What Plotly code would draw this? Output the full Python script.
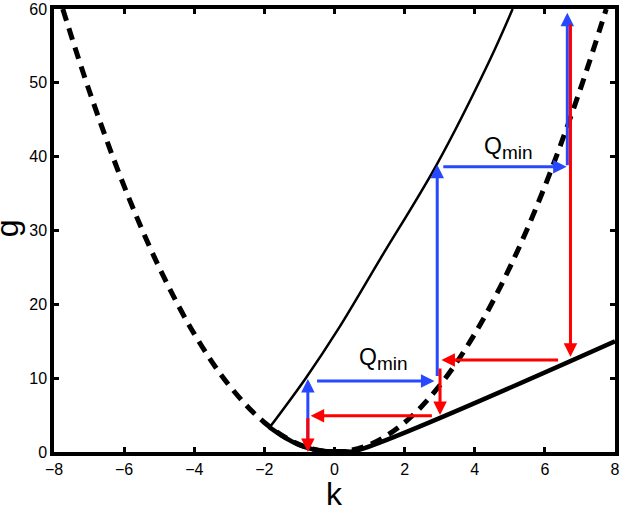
import plotly.graph_objects as go

# dashed parabola g(k)
k_dash = [-7.75, -7, -6, -5, -4, -3, -2, -1, 0, 1, 2, 3, 4, 5, 6, 7, 7.75]
g_dash = [60, 49, 36, 25, 16, 9, 4, 1, 0, 1, 4, 9, 16, 25, 36, 49, 60]

# thin solid upper curve
k_upper = [-1.87, -0.82, 0.1, 1.31, 2.9, 4.42, 5.08]
g_upper = [3.2, 10.0, 16.6, 26.2, 38.8, 53.0, 60.0]

# thick solid lower curve
k_lower = [-1.87, -1.5, -1.2, -0.9, -0.6, -0.3, 0.0, 0.3, 0.55, 8.0]
g_lower = [3.4, 2.2, 1.4, 0.75, 0.35, 0.15, 0.1, 0.1, 0.1, 15.0]

# arrows: tail (k0, g0) -> tip (k1, g1)
blue_k0 = [-0.76, -0.54, 2.93, 3.06, 6.64]
blue_g0 = [0.3, 9.6, 10.1, 38.65, 38.65]
blue_k1 = [-0.76, 2.85, 2.93, 6.62, 6.64]
blue_g1 = [9.9, 9.6, 38.9, 38.65, 59.5]

red_k0 = [6.73, 6.42, 3.01, 2.82, -0.76]
red_g0 = [58.1, 12.45, 11.5, 4.9, 4.8]
red_k1 = [6.73, 3.05, 3.01, -0.68, -0.76]
red_g1 = [12.9, 12.45, 5.0, 4.9, 0.0]

# Q_min labels
label_k = [1.4, 4.95]
label_g = [12.6, 41.2]

BLUE = "rgb(38,72,255)"
RED = "rgb(255,0,0)"
FONT = "Liberation Sans, Arial, Helvetica, sans-serif"

fig = go.Figure()

fig.add_trace(go.Scatter(
    x=k_dash, y=g_dash, mode="lines", line_shape="spline",
    line=dict(color="black", width=5, dash="12px,8px"),
))
fig.add_trace(go.Scatter(
    x=k_upper, y=g_upper, mode="lines", line_shape="spline",
    line=dict(color="black", width=2.5),
))
fig.add_trace(go.Scatter(
    x=k_lower, y=g_lower, mode="lines", line_shape="spline",
    line=dict(color="black", width=4.5),
))

annotations = []
for k0, g0, k1, g1 in zip(blue_k0, blue_g0, blue_k1, blue_g1):
    annotations.append(dict(
        x=k1, y=g1, ax=k0, ay=g0, xref="x", yref="y", axref="x", ayref="y",
        text="", showarrow=True, arrowhead=2, arrowsize=0.9, arrowwidth=3,
        arrowcolor=BLUE,
    ))
for k0, g0, k1, g1 in zip(red_k0, red_g0, red_k1, red_g1):
    annotations.append(dict(
        x=k1, y=g1, ax=k0, ay=g0, xref="x", yref="y", axref="x", ayref="y",
        text="", showarrow=True, arrowhead=2, arrowsize=0.9, arrowwidth=3,
        arrowcolor=RED,
    ))
for k, g in zip(label_k, label_g):
    annotations.append(dict(
        x=k, y=g, xref="x", yref="y", showarrow=False,
        text="Q<sub><span style='font-size:19px'>min</span></sub>",
        font=dict(family=FONT, size=23, color="black"),
    ))

# axis titles as annotations so they sit where the reference has them
annotations.append(dict(
    x=0.5, y=0, xref="paper", yref="paper", xanchor="center", yanchor="bottom",
    yshift=-62, showarrow=False,
    text="k", font=dict(family=FONT, size=32, color="black"),
))
annotations.append(dict(
    x=0, y=0.505, xref="paper", yref="paper", xanchor="center", yanchor="middle",
    xshift=-47, showarrow=False,
    text="g", textangle=-90, font=dict(family=FONT, size=32, color="black"),
))

axis_style = dict(
    showline=True, linecolor="black", linewidth=3.5, mirror="allticks",
    ticks="inside", ticklen=5, tickwidth=3, tickcolor="black",
    showgrid=False, zeroline=False, automargin=False,
    tickfont=dict(family=FONT, size=16, color="black"),
)

fig.update_layout(
    width=623, height=508,
    margin=dict(l=54, r=8, t=9, b=56, autoexpand=False),
    paper_bgcolor="white", plot_bgcolor="white",
    showlegend=False,
    annotations=annotations,
    xaxis=dict(range=[-8, 8], tickvals=[-8, -6, -4, -2, 0, 2, 4, 6, 8], **axis_style),
    yaxis=dict(range=[0, 60], tickvals=[0, 10, 20, 30, 40, 50, 60], **axis_style),
)

fig.write_html("out.html", config={"displayModeBar": False},
               post_script="document.body.style.margin='0';")
